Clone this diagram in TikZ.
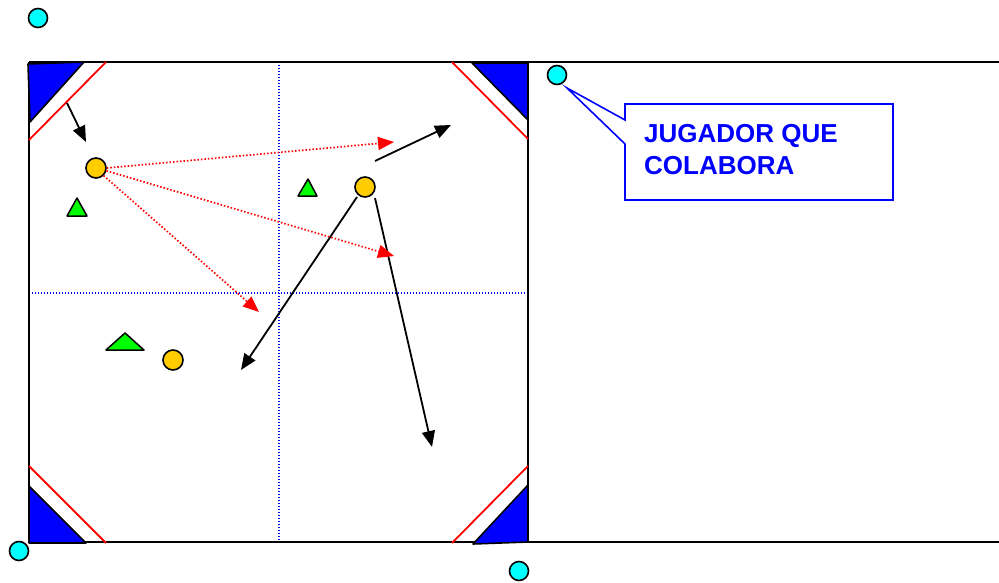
\documentclass[tikz,border=0pt]{standalone}
\usepackage{fontspec}
\setmainfont{Liberation Sans}
\usetikzlibrary{arrows.meta}
\definecolor{pyellow}{RGB}{255,204,0}
\definecolor{pcyan}{RGB}{0,255,255}
\definecolor{pgreen}{RGB}{0,255,0}
\definecolor{pblue}{RGB}{0,0,255}
\begin{document}
\begin{tikzpicture}[x=1pt,y=-1pt,
  frame/.style={line width=2pt,black},
  guide/.style={draw=pblue,line width=1.2pt,dash pattern=on 1.2pt off 1.8pt},
  cornerline/.style={red,line width=1.8pt},
  cornertri/.style={fill=pblue,draw=black,line width=1.6pt,line join=round},
  cyanp/.style={circle,fill=pcyan,draw=black,line width=1.6pt,minimum size=19pt,inner sep=0pt},
  yellowp/.style={circle,fill=pyellow,draw=black,line width=1.6pt,minimum size=20pt,inner sep=0pt},
  greentri/.style={fill=pgreen,draw=black,line width=1.5pt,line join=round},
  move/.style={black,line width=1.8pt,-{Triangle[length=16pt,width=13pt]}},
  pass/.style={red,line width=1.7pt,dash pattern=on 1.5pt off 2pt,-{Triangle[length=16pt,width=13pt]}},
  callout/.style={draw=pblue,line width=1.6pt,fill=white,line join=miter}
]
\useasboundingbox (0,0) rectangle (999,583);
% guide lines
\draw[guide] (279,62) -- (279,542);
\draw[guide] (29,293) -- (528,293);
% frame
\draw[frame] (29,62) -- (999,62);
\draw[frame] (29,542) -- (999,542);
\draw[frame] (29,62) -- (29,542);
\draw[frame] (528,62) -- (528,542);
% corner red lines
\draw[cornerline] (106,62) -- (29,140);
\draw[cornerline] (452,62) -- (528,139);
\draw[cornerline] (29,466) -- (106,543);
\draw[cornerline] (528,466) -- (452,543);
% corner triangles
\draw[cornertri] (28,64) -- (84,62) -- (30,122) -- cycle;
\draw[cornertri] (472,63) -- (528,63) -- (528,120) -- cycle;
\draw[cornertri] (29,486) -- (29,543) -- (86,543) -- cycle;
\draw[cornertri] (528,485) -- (528,542) -- (473,544) -- cycle;
% green triangles
\draw[greentri] (77,198) -- (87,216) -- (67,216) -- cycle;
\draw[greentri] (308,179) -- (317,196) -- (298,196) -- cycle;
\draw[greentri] (125,333) -- (144,350) -- (106,350) -- cycle;
% players
\node[cyanp] (c1) at (38,18) {};
\node[cyanp] (c2) at (557,75) {};
\node[cyanp] (c3) at (19,551) {};
\node[cyanp] (c4) at (519,571) {};
\node[yellowp] (y1) at (96,168) {};
\node[yellowp] (y2) at (365,187) {};
\node[yellowp] (y3) at (173,360) {};
% movement targets
\coordinate (m0s) at (67,103);
\coordinate (m0e) at (86,142);
\coordinate (m1s) at (375,161);
\coordinate (m1e) at (451,125);
\coordinate (m2s) at (357,197);
\coordinate (m2e) at (241,370);
\coordinate (m3s) at (375,198);
\coordinate (m3e) at (432,447);
\coordinate (r1e) at (394,142);
\coordinate (r2e) at (394,256);
\coordinate (r3e) at (259,312);
% black arrows
\draw[move] (m0s) -- (m0e);
\draw[move] (m1s) -- (m1e);
\draw[move] (m2s) -- (m2e);
\draw[move] (m3s) -- (m3e);
% red passes
\draw[pass] (y1.east) -- (r1e);
\draw[pass] (y1.345) -- (r2e);
\draw[pass] (y1.315) -- (r3e);
% callout
\draw[callout] (625,104) -- (893,104) -- (893,200) -- (625,200) -- (625,144) -- (567,88) -- (625,120) -- cycle;
\node[anchor=west,align=left,text=pblue,font=\fontsize{26}{32}\selectfont\bfseries,inner sep=0pt] (txt) at (644,150) {JUGADOR QUE\\COLABORA};
\end{tikzpicture}
\end{document}
